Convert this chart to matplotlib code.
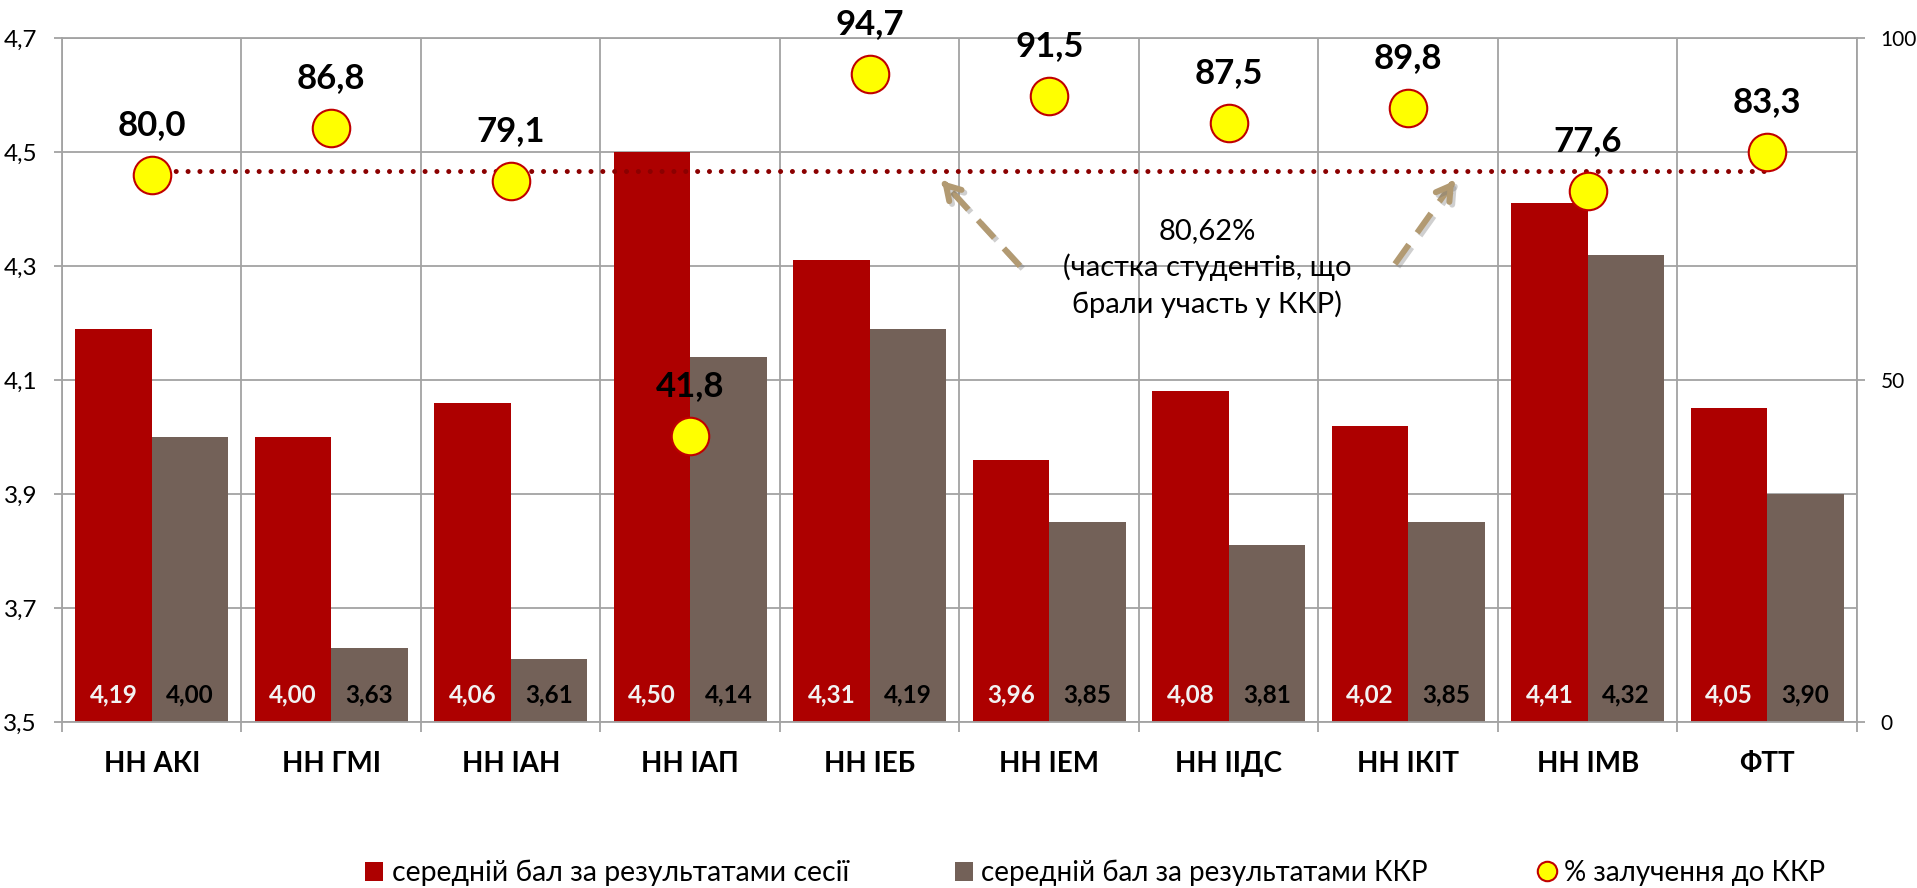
import matplotlib
matplotlib.use("Agg")
import matplotlib.pyplot as plt
from matplotlib.patches import Patch
from matplotlib.lines import Line2D
from matplotlib import patheffects as pe
from matplotlib.ticker import FixedLocator, FuncFormatter

plt.rcParams['font.family'] = ['Lato', 'Noto Sans', 'DejaVu Sans']

# Faculties / institutes
categories = ["НН АКІ", "НН ГМІ", "НН ІАН", "НН ІАП", "НН ІЕБ",
              "НН ІЕМ", "НН ІІДС", "НН ІКІТ", "НН ІМВ", "ФТТ"]
# Average grade from the exam session
session_avg = [4.19, 4.00, 4.06, 4.50, 4.31, 3.96, 4.08, 4.02, 4.41, 4.05]
# Average grade from the control work (ККР)
kkr_avg = [4.00, 3.63, 3.61, 4.14, 4.19, 3.85, 3.81, 3.85, 4.32, 3.90]
# Share of students involved in ККР, %
kkr_share = [80.0, 86.8, 79.1, 41.8, 94.7, 91.5, 87.5, 89.8, 77.6, 83.3]
# Overall share of participating students, %
overall_share = 80.62

left_ticks = [3.5, 3.7, 3.9, 4.1, 4.3, 4.5, 4.7]
right_ticks = [0, 50, 100]

legend_labels = ["середній бал за результатами сесії",
                 "середній бал за результатами ККР",
                 "% залучення до ККР"]
note_text = "80,62%\n(частка студентів, що\nбрали участь у ККР)"

RED = "#AD0000"
TAUPE = "#736158"
GRID = "#A3A3A3"
DOT = "#8B0000"
ARROW = "#B29A72"


def comma(v, nd):
    return f"{v:.{nd}f}".replace(".", ",")


fig = plt.figure(figsize=(19.17, 8.88), dpi=100)
ax = fig.add_axes([0.03234, 0.18694, 0.93636, 0.77027])

n = len(categories)
xs = list(range(n))
w = 0.426

bars1 = ax.bar([x - w / 2 for x in xs], [v - 3.5 for v in session_avg], w,
               bottom=3.5, color=RED, zorder=2)
bars2 = ax.bar([x + w / 2 for x in xs], [v - 3.5 for v in kkr_avg], w,
               bottom=3.5, color=TAUPE, zorder=2)

for b, v in zip(bars1, session_avg):
    ax.annotate(comma(v, 2), (b.get_x() + b.get_width() / 2, 3.5),
                xytext=(0, 19.5), textcoords="offset points",
                ha="center", va="center", fontsize=17.5, fontweight="bold",
                color="#F2F2F2", zorder=3)
for b, v in zip(bars2, kkr_avg):
    ax.annotate(comma(v, 2), (b.get_x() + b.get_width() / 2, 3.5),
                xytext=(0, 19.5), textcoords="offset points",
                ha="center", va="center", fontsize=17.5, fontweight="bold",
                color="black", zorder=3)

ax.set_xlim(-0.5, n - 0.5)
ax.set_ylim(3.5, 4.7)
ax.set_yticks(left_ticks)
ax.yaxis.set_major_formatter(FuncFormatter(lambda v, p: comma(v, 1)))
ax.tick_params(axis="y", which="major", length=6, width=1.3, color=GRID,
               labelsize=17.5, pad=12)

ax.set_xticks(xs)
ax.set_xticklabels(categories, fontsize=20, fontweight="bold")
ax.xaxis.set_minor_locator(FixedLocator([x - 0.5 for x in range(n + 1)]))
ax.tick_params(axis="x", which="major", length=0, pad=21)
ax.tick_params(axis="x", which="minor", length=7, width=1.3, color=GRID)

ax.grid(axis="y", which="major", color=GRID, linewidth=1.3)
ax.grid(axis="x", which="minor", color=GRID, linewidth=1.3)
ax.set_axisbelow(True)
for s in ax.spines.values():
    s.set_color(GRID)
    s.set_linewidth(1.3)

ax2 = ax.twinx()
ax2.set_ylim(0, 100)
ax2.set_yticks(right_ticks)
ax2.tick_params(axis="y", length=6, width=1.3, color=GRID, labelsize=15, pad=11)
for s in ax2.spines.values():
    s.set_visible(False)

ax2.plot([xs[0], xs[-1]], [overall_share, overall_share], color=DOT,
         linewidth=3.6, linestyle=(0, (0.01, 2.36)), dash_capstyle="round",
         zorder=2)
ax2.plot(xs, kkr_share, linestyle="none", marker="o", markersize=27,
         markerfacecolor="#FFFF00", markeredgecolor="#C00000",
         markeredgewidth=1.5, zorder=3)
for x, v in zip(xs, kkr_share):
    ax2.annotate(comma(v, 1), (x, v), xytext=(0, 36), textcoords="offset points",
                 ha="center", va="center", fontsize=25, fontweight="bold",
                 color="black", zorder=4)

# Note with dashed arrows pointing at the overall line
ax2.text(0.6379, 0.6640, note_text, transform=ax2.transAxes, ha="center",
         va="center", fontsize=21, linespacing=1.42, color="black", zorder=5)
shadow = [pe.SimpleLineShadow(offset=(2, -2), shadow_color="#777777", alpha=0.35),
          pe.Normal()]
for tail, head in [((0.5337, 0.6667), (0.4903, 0.7909)),
                   ((0.7426, 0.6696), (0.7755, 0.7909))]:
    # dashed shaft
    ax2.annotate("", xy=head, xycoords="axes fraction", xytext=tail,
                 textcoords="axes fraction",
                 arrowprops=dict(arrowstyle="-", color=ARROW, lw=4.3,
                                 linestyle=(0, (4, 2.4)), shrinkA=0, shrinkB=7,
                                 capstyle="butt", path_effects=shadow), zorder=5)
    # solid open head on a very short stub near the tip
    stub = (head[0] - 0.04 * (head[0] - tail[0]),
            head[1] - 0.04 * (head[1] - tail[1]))
    ax2.annotate("", xy=head, xycoords="axes fraction", xytext=stub,
                 textcoords="axes fraction",
                 arrowprops=dict(arrowstyle="->,head_length=1.0,head_width=0.6",
                                 color=ARROW, lw=4.3, shrinkA=0, shrinkB=0,
                                 linestyle="-", path_effects=shadow), zorder=5)

# Legend entries placed along the bottom
handles = [Patch(facecolor=RED, edgecolor="none"),
           Patch(facecolor=TAUPE, edgecolor="none"),
           Line2D([], [], linestyle="none", marker="o", markersize=14,
                  markerfacecolor="#FFFF00", markeredgecolor="#C00000",
                  markeredgewidth=1.5)]
lx = [365, 955, 1538]
fs = [20.4, 20, 20]
for h, lab, x0, f in zip(handles, legend_labels, lx, fs):
    fig.legend([h], [lab], loc="center left",
               bbox_to_anchor=(x0 / 1917, 1 - 873 / 888), frameon=False,
               borderpad=0, borderaxespad=0, handlelength=0.65,
               handleheight=0.65, handletextpad=0.3, fontsize=f)

fig.savefig("out.png", dpi=100, facecolor="white")
